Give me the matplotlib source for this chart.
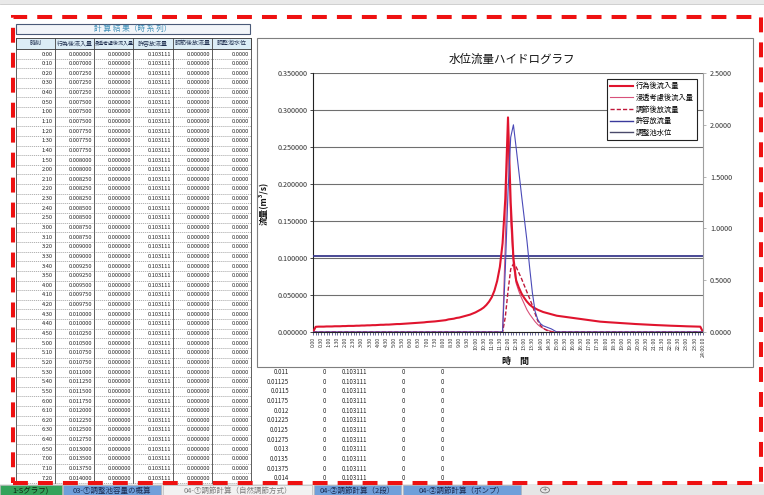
import numpy as np
import matplotlib
matplotlib.use('Agg')
import matplotlib.pyplot as plt
import matplotlib.patches as mpatches
from matplotlib.lines import Line2D

plt.rcParams['font.family'] = ['Noto Sans CJK JP', 'DejaVu Sans']

W, H = 764, 495

# ---- data (10 minute steps, 0:00 .. 24:00) ----
# 行為後流入量
inflow_0000_0720 = [0.000000, 0.007000, 0.007250, 0.007250, 0.007250, 0.007500, 0.007500, 0.007500, 0.007750, 0.007750, 0.007750, 0.008000,
                    0.008000, 0.008250, 0.008250, 0.008250, 0.008500, 0.008500, 0.008750, 0.008750, 0.009000, 0.009000, 0.009250, 0.009250,
                    0.009500, 0.009750, 0.009750, 0.010000, 0.010000, 0.010250, 0.010500, 0.010750, 0.010750, 0.011000, 0.011250, 0.011500,
                    0.011750, 0.012000, 0.012250, 0.012500, 0.012750, 0.013000, 0.013500, 0.013750, 0.014000]
inflow_0730_1200 = [0.0143, 0.0147, 0.0150,
                    0.0155, 0.0160, 0.0170, 0.0175, 0.0180, 0.0190,
                    0.0195, 0.0205, 0.0215, 0.0225, 0.0235, 0.0250,
                    0.0265, 0.0285, 0.0305, 0.0330, 0.0365, 0.0410,
                    0.0470, 0.0560, 0.0690, 0.0880, 0.1200, 0.1800,
                    0.2900]
inflow_1210_1450 = [0.175, 0.100, 0.070, 0.060, 0.052,
                    0.046, 0.041, 0.037, 0.034, 0.032, 0.030,
                    0.0285, 0.027, 0.026, 0.025, 0.024, 0.023]
inflow_1500_2400 = [0.0220, 0.0215, 0.0210, 0.0205, 0.0200, 0.0195,
                    0.0190, 0.0185, 0.0180, 0.0175, 0.0170, 0.0165,
                    0.0160, 0.0155, 0.0150, 0.0145, 0.0140, 0.0137,
                    0.0135, 0.0132, 0.0130, 0.0127, 0.0125, 0.0122,
                    0.0120, 0.0118, 0.0115, 0.0113, 0.0110, 0.0108,
                    0.0106, 0.0104, 0.0102, 0.0100, 0.0098, 0.0097,
                    0.0095, 0.0093, 0.0092, 0.0090, 0.0088, 0.0087,
                    0.0085, 0.0084, 0.0082, 0.0081, 0.0080, 0.0078,
                    0.0077, 0.0076, 0.0075, 0.0074, 0.0073, 0.0072,
                    0.0000]

# event window 11:30 .. 15:00 (zero outside)
event_start = 69
infiltrated_event = [0.000, 0.000, 0.120, 0.280, 0.150, 0.090, 0.066, 0.055, 0.046, 0.038, 0.030,
                     0.024, 0.019, 0.014, 0.010, 0.007, 0.005, 0.003, 0.002, 0.001, 0.000, 0.000]
outflow_event = [0.000, 0.000, 0.020, 0.055, 0.085, 0.092, 0.088, 0.080, 0.072, 0.063, 0.054,
                 0.045, 0.036, 0.025, 0.015, 0.009, 0.005, 0.003, 0.001, 0.000, 0.000, 0.000]
level_event = [0.00, 0.00, 0.60, 1.35, 1.88, 2.00, 1.78, 1.55, 1.32, 1.10, 0.88,
               0.62, 0.38, 0.20, 0.12, 0.08, 0.06, 0.05, 0.04, 0.03, 0.015, 0.00]

allowable = 0.103111

inflow = np.array(inflow_0000_0720 + inflow_0730_1200 + inflow_1210_1450 + inflow_1500_2400)
n = len(inflow)
infiltrated = np.zeros(n)
infiltrated[event_start:event_start + len(infiltrated_event)] = infiltrated_event
outflow = np.zeros(n)
outflow[event_start:event_start + len(outflow_event)] = outflow_event
level = np.zeros(n)
level[event_start:event_start + len(level_event)] = level_event
allow = np.full(n, allowable)

times = ['%d:%02d' % divmod(i * 10, 60) for i in range(n)]
xlabels = [(t if i % 3 == 0 else '') for i, t in enumerate(times)]
xlabels[-1] = '24:00:00'

names = ['行為後流入量', '浸透考慮後流入量', '調節後放流量', '許容放流量', '調整池水位']
table_header = ['時刻', '行為後流入量', '浸透考慮後流入量', '許容放流量', '調節後放流量', '調整池水位']
n_rows = 45
hidden_first = 33  # rows shown under the chart

# ---- figure ----
fig = plt.figure(figsize=(W / 100, H / 100), dpi=100)


def fx(x):
    return x / W


def fy(y):
    return 1 - y / H


def ftext(x, y, s, **kw):
    return fig.text(fx(x), fy(y), s, **kw)


def fline(x0, y0, x1, y1, **kw):
    fig.add_artist(Line2D([fx(x0), fx(x1)], [fy(y0), fy(y1)], transform=fig.transFigure, **kw))


def frect(x0, y0, x1, y1, **kw):
    fig.add_artist(mpatches.Rectangle((fx(x0), fy(y1)), fx(x1) - fx(x0), fy(y0) - fy(y1),
                                      transform=fig.transFigure, **kw))


# excel header strip at top
frect(0, 0, W, 4, facecolor='#e9e9e9', edgecolor='none', zorder=-2)
fline(0, 4, W, 4, color='#c8c8c8', lw=0.6, zorder=-2)

# ---- table ----
cols = [16, 55, 94, 133, 173, 212, 251]
row0, pitch = 54, 9.64
frect(16, 24, 250, 34, facecolor='#f2f5f9', edgecolor='#4a5a78', lw=0.8, zorder=-1)
ftext(133, 29, '計 算 結 果（時 系 列）', ha='center', va='center', fontsize=5.5, color='#3f8fb8')
frect(16, 38, 251, 49, facecolor='#dcedf6', edgecolor='#333333', lw=0.6, zorder=-1)
for j, h in enumerate(table_header):
    fs = 3.6 if j == 2 else 4.3
    ftext((cols[j] + cols[j + 1]) / 2, 43.5, h, ha='center', va='center', fontsize=fs, color='#1f2f4f')
for c in cols:
    fline(c, 38, c, 483, color='#444444', lw=0.6, zorder=-1)
for i in range(n_rows):
    y = row0 + pitch * i
    fline(16, y + pitch / 2, 251, y + pitch / 2, color='#777777', lw=0.4, ls=(0, (2, 1.5)), zorder=-1)
    vals = [times[i], '%.6f' % inflow[i], '%.6f' % infiltrated[i], '%.6f' % allow[i],
            '%.6f' % outflow[i], '%.4f' % level[i]]
    for j, v in enumerate(vals):
        ftext(cols[j + 1] - 2, y, v, ha='right', va='center', fontsize=4.1, color='#222222')

# values of hidden columns below the chart
for i in range(hidden_first, n_rows):
    y = row0 + pitch * i
    ftext(289, y, '%g' % inflow[i], ha='right', va='center', fontsize=4.4, color='#222222')
    ftext(326, y, '0', ha='right', va='center', fontsize=4.4, color='#222222')
    ftext(367, y, '%.6f' % allowable, ha='right', va='center', fontsize=4.4, color='#222222')
    ftext(405, y, '0', ha='right', va='center', fontsize=4.4, color='#222222')
    ftext(444, y, '0', ha='right', va='center', fontsize=4.4, color='#222222')

# ---- chart ----
frect(257, 38, 753, 367, facecolor='white', edgecolor='#7f7f7f', lw=0.8, zorder=-0.5)
ax = fig.add_axes([fx(313), fy(332), (703 - 313) / W, (332 - 73) / H])
x = np.arange(n)

ax.plot(x, allow, color='#3a3a8c', lw=1.3, zorder=3)
ax.plot(x, inflow, color='#e0142e', lw=1.5, zorder=5)
ax.plot(x, infiltrated, color='#d8507a', lw=0.8, zorder=4)
ax.plot(x, outflow, color='#c0183a', lw=1.0, ls=(0, (3, 1.5)), zorder=4)

ax.set_xlim(0, n - 1)
ax.set_ylim(0, 0.35)
ax.set_yticks(np.arange(0, 0.351, 0.05))
ax.set_yticklabels(['%.6f' % v for v in np.arange(0, 0.351, 0.05)], fontsize=5.2, color='#333333')
ax.grid(axis='y', color='#6f6f6f', lw=0.8)
ax.set_axisbelow(True)
ax.set_xticks(x)
ax.set_xticklabels(xlabels, rotation=90, fontsize=3.8, color='#333333')
ax.tick_params(axis='x', length=2, width=0.5, color='#333377', pad=1.5)
ax.tick_params(axis='y', length=2, width=0.5, pad=2)
for s in ['top', 'right']:
    ax.spines[s].set_visible(False)
ax.spines['left'].set_color('#222222')
ax.spines['bottom'].set_color('#222222')
ax.spines['left'].set_linewidth(0.8)
ax.spines['bottom'].set_linewidth(0.8)

ax2 = ax.twinx()
ax2.plot(x, level, color='#4a4ab8', lw=0.8, zorder=4)
ax2.set_ylim(0, 2.5)
ax2.set_yticks(np.arange(0, 2.51, 0.5))
ax2.set_yticklabels(['%.4f' % v for v in np.arange(0, 2.51, 0.5)], fontsize=5.2, color='#333333')
ax2.tick_params(axis='y', length=2, width=0.5, pad=3, color='#999999')
for s in ['top', 'left', 'bottom']:
    ax2.spines[s].set_visible(False)
ax2.spines['right'].set_color('#a0a0a0')

handles = [Line2D([], [], color='#e0142e', lw=1.5),
           Line2D([], [], color='#d8507a', lw=0.8),
           Line2D([], [], color='#c0183a', lw=1.0, ls=(0, (3, 1.5))),
           Line2D([], [], color='#3a3a9c', lw=1.0),
           Line2D([], [], color='#4a4a6a', lw=1.0)]
leg = ax2.legend(handles, names, loc='upper left', bbox_to_anchor=(fx(607), fy(79)),
                 bbox_transform=fig.transFigure, fontsize=5.2, frameon=True, fancybox=False,
                 edgecolor='#222222', framealpha=1, borderpad=0.45, labelspacing=0.5,
                 handlelength=3.2, handletextpad=0.3, borderaxespad=0)
leg.get_frame().set_linewidth(0.8)

ftext(512, 59, '水位流量ハイドログラフ', ha='center', va='center', fontsize=8.3, color='#111111')
ftext(263, 203, '流量(m³/s)', ha='center', va='center', rotation=90, fontsize=6.2,
      fontweight='bold', color='#111111')
ftext(515, 361, '時　間', ha='center', va='center', fontsize=6.5, fontweight='bold', color='#111111')

# ---- sheet tabs ----
frect(0, 484, W, 495, facecolor='#e6e6e6', edgecolor='none', zorder=-2)
tabs = [(0, 62, '#33a35a', '1-Sグラフ)', '#102010'),
        (63, 161, '#6f9fda', '03-①調整池容量の概算', '#1a2a50'),
        (163, 312, '#f2f2f2', '04-①調節計算（自然調節方式）', '#7a7a7a'),
        (314, 401, '#6f9fda', '04-②調節計算（2段）', '#1a2a50'),
        (403, 521, '#6f9fda', '04-②調節計算（ポンプ）', '#1a2a50')]
for x0, x1, fc, label, tc in tabs:
    frect(x0, 485, x1, 495, facecolor=fc, edgecolor='#b0b0b0', lw=0.4, zorder=-1)
    ftext((x0 + x1) / 2, 490.5, label, ha='center', va='center', fontsize=5.4, color=tc)
fig.add_artist(mpatches.Circle((fx(545), fy(490)), 4.5 / W, transform=fig.transFigure,
                               facecolor='none', edgecolor='#777777', lw=0.6))
ftext(545, 490, '+', ha='center', va='center', fontsize=5.5, color='#555555')

# ---- red dashed outline ----
frect(13, 17, 761, 483, facecolor='none', edgecolor='#ee1111', lw=2.9,
      ls=(0, (3.7, 2.5)), zorder=20)

fig.savefig('out.png', dpi=100)
